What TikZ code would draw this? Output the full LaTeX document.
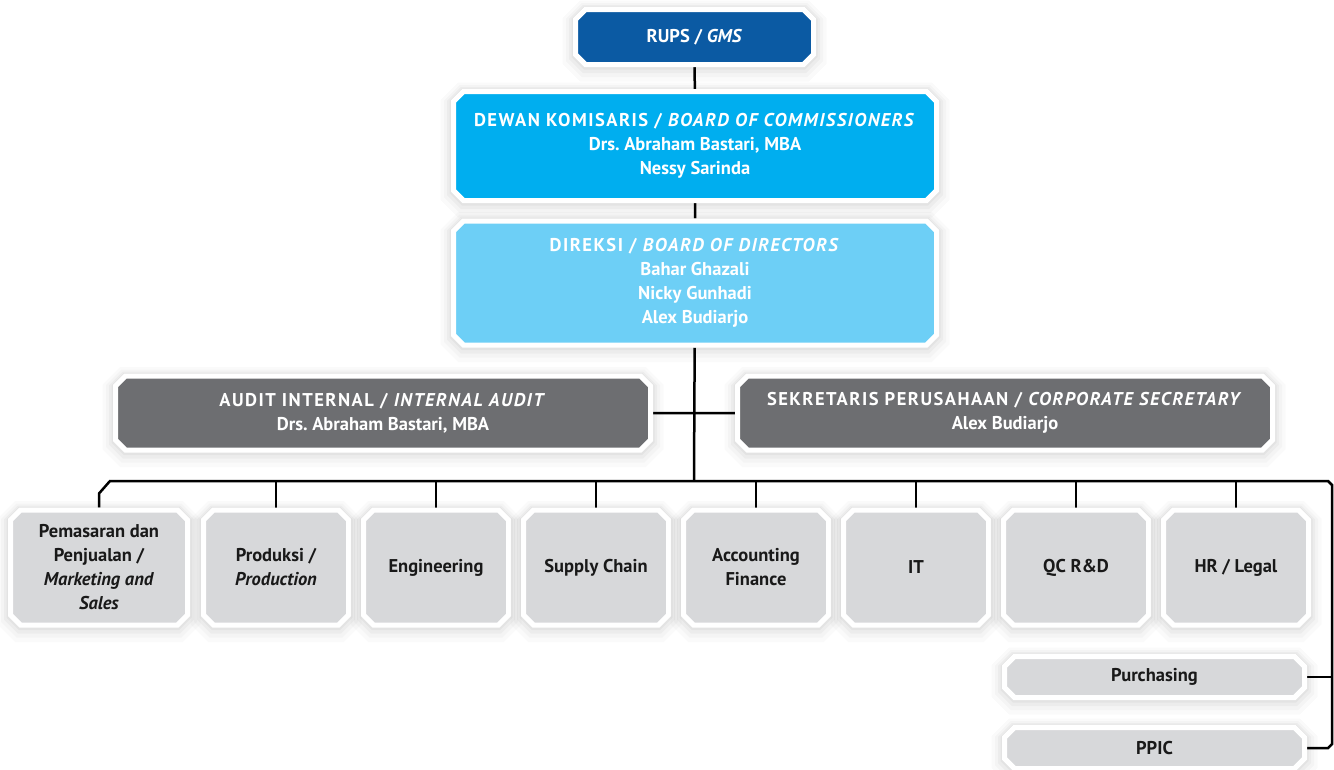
\documentclass[tikz,border=0pt]{standalone}
\usepackage{fontspec}
\setmainfont{PT Sans}
\newfontfamily\spacedfont[LetterSpace=8]{PT Sans}
\frenchspacing
\usetikzlibrary{shapes.misc,backgrounds,calc}
\definecolor{rupsblue}{HTML}{0B5AA3}
\definecolor{komblue}{HTML}{00AEEF}
\definecolor{dirblue}{HTML}{6DCFF6}
\definecolor{staffgray}{HTML}{6D6E71}
\definecolor{deptgray}{HTML}{D7D8DA}
\tikzset{
  glow/.style = {
    preaction={draw=black,draw opacity=0.02,line width=26pt,transform canvas={yshift=-4pt}},
    preaction={draw=black,draw opacity=0.025,line width=19pt,transform canvas={yshift=-3pt}},
    preaction={draw=black,draw opacity=0.03,line width=13pt,transform canvas={yshift=-2pt}},
    preaction={draw=black,draw opacity=0.035,line width=8pt,transform canvas={yshift=-1pt}}
  },
  orgbox/.style = {
    chamfered rectangle, chamfered rectangle xsep=5pt, chamfered rectangle ysep=5pt,
    draw=white, line width=5pt, inner sep=0pt, align=center, glow,
    font=\bfseries\fontsize{18.5}{24}\selectfont
  },
  topbox/.style = {orgbox, text=white},
  deptbox/.style = {orgbox, fill=deptgray, text=black!90, minimum width=145pt, minimum height=115pt},
  subbox/.style = {orgbox, fill=deptgray, text=black!90, minimum width=300pt, minimum height=41pt},
  orgline/.style = {line width=2.5pt}
}

\begin{document}
\begin{tikzpicture}[x=1pt,y=-1pt]
  \useasboundingbox (0,0) rectangle (1334,769);
  \begin{scope}[on background layer]
    \fill[white] (0,0) rectangle (1334,769);
  \end{scope}
  % top of the chart
  \node[topbox,fill=rupsblue,minimum width=238pt,minimum height=55pt] (rups) at (694.5,37) {RUPS / \textit{GMS}};
  \node[topbox,fill=komblue,minimum width=483pt,minimum height=109pt] (dewan) at (695,146)
    {{\spacedfont DEWAN KOMISARIS / \textit{BOARD OF COMMISSIONERS}}\\Drs. Abraham Bastari, MBA\\Nessy Sarinda};
  \node[topbox,fill=dirblue,minimum width=483pt,minimum height=124pt] (direksi) at (695,283)
    {{\spacedfont DIREKSI / \textit{BOARD OF DIRECTORS}}\\Bahar Ghazali\\Nicky Gunhadi\\Alex Budiarjo};
  % staff units
  \node[topbox,fill=staffgray,minimum width=535pt,minimum height=74pt] (audit) at (383,413)
    {{\spacedfont AUDIT INTERNAL / \textit{INTERNAL AUDIT}}\\Drs. Abraham Bastari, MBA};
  \node[topbox,fill=staffgray,minimum width=535pt,minimum height=74pt] (sekretaris) at (1005,413)
    {{\spacedfont SEKRETARIS PERUSAHAAN / \textit{CORPORATE SECRETARY}}\\Alex Budiarjo};
  % departments
  \node[deptbox,minimum width=177pt] (d1) at (99,567.5) {Pemasaran dan\\Penjualan /\\\textit{Marketing and}\\\textit{Sales}};
  \node[deptbox] (d2) at (276,567.5) {Produksi /\\\textit{Production}};
  \node[deptbox] (d3) at (436,567.5) {Engineering};
  \node[deptbox] (d4) at (596,567.5) {Supply Chain};
  \node[deptbox] (d5) at (756,567.5) {Accounting\\Finance};
  \node[deptbox] (d6) at (916,567.5) {IT};
  \node[deptbox] (d7) at (1076,567.5) {QC R\&D};
  \node[deptbox] (d8) at (1236,567.5) {HR / Legal};
  % sub units
  \node[subbox] (purchasing) at (1154.5,677) {Purchasing};
  \node[subbox] (ppic) at (1154.5,748) {PPIC};
  % lines
  \coordinate (bus) at (694,481);
  \coordinate (rail) at (1332,481);
  \begin{scope}[on background layer]
    \draw[orgline] (rups) -- (dewan);
    \draw[orgline] (dewan) -- (direksi);
    \draw[orgline] (direksi) -- (bus);
    \draw[orgline] (audit) -- (sekretaris);
    \draw[orgline] (d1.north) -- ++(0,-14) -- (110,481) -- ($(rail)+(-4,0)$) -- ($(rail)+(0,4)$)
      -- ($(ppic.east -| rail)+(0,-4)$) -- ($(ppic.east -| rail)+(-4,0)$) -- (ppic.east);
    \draw[orgline] (purchasing.east) -- (purchasing.east -| rail);
    \foreach \d in {d2,d3,d4,d5,d6,d7,d8} {
      \draw[orgline] (\d.north) -- (\d.north |- bus);
    }
  \end{scope}
\end{tikzpicture}
\end{document}
